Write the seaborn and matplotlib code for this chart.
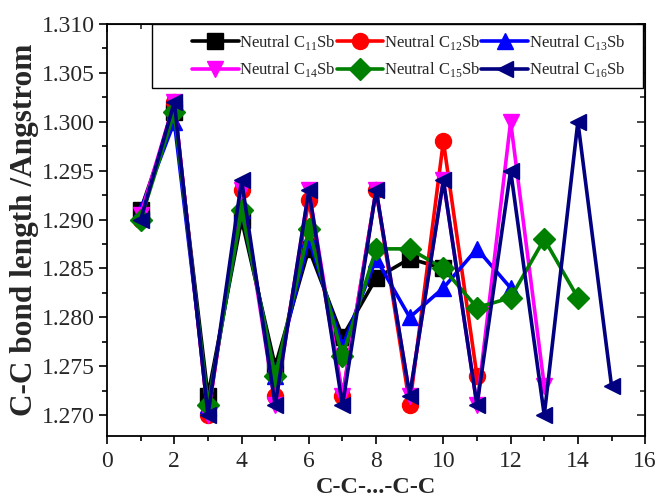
import pandas as pd
import matplotlib
matplotlib.use('Agg')
import matplotlib.pyplot as plt
import seaborn as sns
from matplotlib.ticker import MultipleLocator, FormatStrFormatter
from matplotlib.patches import Rectangle

# ---- data ----
c11 = [1.291, 1.301, 1.272, 1.290, 1.275, 1.287, 1.278, 1.284, 1.286, 1.285]
c12 = [1.290, 1.302, 1.270, 1.293, 1.272, 1.292, 1.272, 1.293, 1.271, 1.298, 1.274]
c13 = [1.291, 1.300, 1.271, 1.291, 1.274, 1.288, 1.277, 1.286, 1.280, 1.283, 1.287, 1.283]
c14 = [1.2905, 1.302, 1.270, 1.293, 1.271, 1.293, 1.272, 1.293, 1.272, 1.294, 1.271, 1.300, 1.273]
c15 = [1.290, 1.301, 1.271, 1.291, 1.274, 1.289, 1.276, 1.287, 1.287, 1.285, 1.281, 1.282, 1.288, 1.282]
c16 = [1.290, 1.302, 1.270, 1.294, 1.271, 1.293, 1.271, 1.293, 1.272, 1.294, 1.271, 1.295, 1.270, 1.300, 1.273]

names = [r"Neutral C$_{\mathregular{11}}$Sb", r"Neutral C$_{\mathregular{12}}$Sb",
         r"Neutral C$_{\mathregular{13}}$Sb", r"Neutral C$_{\mathregular{14}}$Sb",
         r"Neutral C$_{\mathregular{15}}$Sb", r"Neutral C$_{\mathregular{16}}$Sb"]
colors = ["#000000", "#ff0000", "#0000ff", "#ff00ff", "#008000", "#000080"]
marks = ["s", "o", "^", "v", "D", "<"]

rows = []
for name, vals in zip(names, [c11, c12, c13, c14, c15, c16]):
    for i, v in enumerate(vals):
        rows.append({"pos": i + 1, "length": v, "series": name})
df = pd.DataFrame(rows)

sns.set_style("ticks")
plt.rcParams['font.family'] = ['Liberation Serif', 'DejaVu Serif']
plt.rcParams['mathtext.fontset'] = 'custom'
plt.rcParams['mathtext.rm'] = 'Liberation Serif'

fig = plt.figure(figsize=(6.61, 4.99), dpi=100)
ax = fig.add_axes([0.162, 0.126, 0.814, 0.826])

sns.lineplot(
    data=df, x="pos", y="length", hue="series", style="series",
    palette=dict(zip(names, colors)), markers=dict(zip(names, marks)),
    dashes=False, sort=False, linewidth=2.6, markersize=11.5,
    legend=False, ax=ax
)
for ln, col in zip(ax.lines, colors):
    ln.set_markeredgecolor(col)
    ln.set_markerfacecolor(col)
    ln.set_markeredgewidth(1.0)

ax.set_xlim(0, 16)
ax.set_ylim(1.26785, 1.310)
ax.xaxis.set_major_locator(MultipleLocator(2))
ax.xaxis.set_minor_locator(MultipleLocator(1))
ax.yaxis.set_major_locator(MultipleLocator(0.005))
ax.yaxis.set_minor_locator(MultipleLocator(0.0025))
ax.yaxis.set_major_formatter(FormatStrFormatter('%.3f'))

for s in ax.spines.values():
    s.set_visible(True)
    s.set_linewidth(1.3)
    s.set_color("black")
ax.tick_params(which='both', direction='out', top=False, right=False, color='black', width=1.2)
ax.tick_params(which='major', length=6, labelsize=17, pad=3)
ax.tick_params(axis='x', which='major', pad=5)
ax.tick_params(which='minor', length=3.5)
# inward ticks on top and right
ax2 = ax.secondary_xaxis('top')
ax2.xaxis.set_major_locator(MultipleLocator(2))
ax2.xaxis.set_minor_locator(MultipleLocator(1))
ax2.tick_params(which='both', direction='in', labeltop=False, width=1.2)
ax2.tick_params(which='major', length=6)
ax2.tick_params(which='minor', length=3.5)
ax3 = ax.secondary_yaxis('right')
ax3.yaxis.set_major_locator(MultipleLocator(0.005))
ax3.yaxis.set_minor_locator(MultipleLocator(0.0025))
ax3.tick_params(which='both', direction='in', labelright=False, width=1.2)
ax3.tick_params(which='major', length=6)
ax3.tick_params(which='minor', length=3.5)

ax.set_xlabel("C-C-...-C-C", fontsize=17.5, fontweight='bold', labelpad=3)
ax.set_ylabel("C-C bond length /Angstrom", fontsize=22.5, fontweight='bold', labelpad=2)

# legend box (wider than its content, as in the original)
ax.add_patch(Rectangle((0.084, 0.845), 0.912, 0.155, transform=ax.transAxes,
                       facecolor='white', edgecolor='black', linewidth=1.0, zorder=5))
lines = ax.lines[:6]
order = [0, 3, 1, 4, 2, 5]
leg = ax.legend([lines[i] for i in order], [names[i] for i in order],
                ncol=3, loc='center right', bbox_to_anchor=(0.963, 0.9215),
                fontsize=12, frameon=False,
                borderaxespad=0, borderpad=0, handlelength=2.8, handletextpad=0.05,
                columnspacing=0.05, labelspacing=0.5)
leg.set_zorder(6)

fig.savefig("out.png", dpi=100)
